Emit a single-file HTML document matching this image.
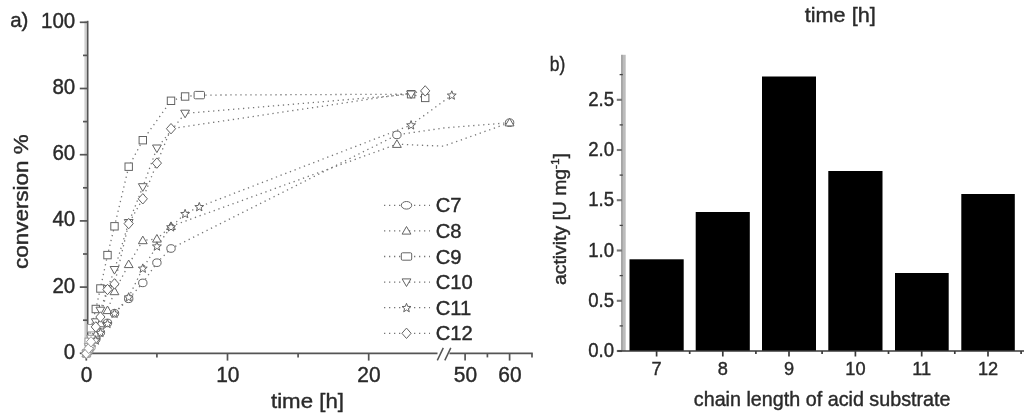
<!DOCTYPE html>
<html><head><meta charset="utf-8"><title>figure</title>
<style>
html,body{margin:0;padding:0;background:#fff;}
body{width:1024px;height:416px;overflow:hidden;font-family:"Liberation Sans",sans-serif;}
svg{display:block;filter:blur(0.75px);}
</style></head><body>
<svg width="1024" height="416" viewBox="0 0 1024 416">
<rect width="1024" height="416" fill="#fff"/>
<rect x="84.4" y="20.8" width="2.8" height="333.6" fill="#cfcfcf"/>
<rect x="86.9" y="20.8" width="1.6" height="333.6" fill="#555"/>
<g stroke="#555" stroke-width="1.9" fill="none">
<path d="M85 353.4H437.5M449.5 353.4H532.8"/>
</g>
<g stroke="#555" stroke-width="1.7" fill="none">
<path d="M79.8 353.3H87"/>
<path d="M79.8 287.1H87"/>
<path d="M79.8 220.9H87"/>
<path d="M79.8 154.7H87"/>
<path d="M79.8 88.5H87"/>
<path d="M79.8 22.3H87"/>
<path d="M83 320.2H87"/>
<path d="M83 254.0H87"/>
<path d="M83 187.8H87"/>
<path d="M83 121.6H87"/>
<path d="M83 55.4H87"/>
<path d="M86.3 353.4V360.59999999999997"/>
<path d="M227.5 353.4V360.59999999999997"/>
<path d="M368.7 353.4V360.59999999999997"/>
<path d="M465.1 353.4V360.59999999999997"/>
<path d="M509.6 353.4V360.59999999999997"/>
<path d="M156.9 353.4V357.4"/>
<path d="M298.1 353.4V357.4"/>
<path d="M487.4 353.4V357.4"/>
<path d="M532 353.4V357.4"/>
<path d="M437.3 360.4L443.3 347.9M444.8 360.4L450.8 347.9" stroke-width="1.5"/>
</g>
<g fill="none" stroke="#767676" stroke-width="1.3" stroke-dasharray="1.3 3.7">
<path d="M86.3 353.4L88.7 350.8L91.0 347.4L95.8 339.2L100.4 332.5L107.5 322.9L114.5 313.3L128.7 298.8L142.8 282.9L156.9 262.7L171.0 248.5L396.9 134.9L443.5 128.0L509.6 122.7"/>
<path d="M86.3 353.4L88.7 349.4L91.0 343.5L95.8 334.9L100.4 323.6L107.5 310.4L114.5 291.5L128.7 264.4L142.8 240.5L156.9 238.9L171.0 226.3L396.9 144.2L443.5 146.2L509.6 122.7"/>
<path d="M86.3 353.4L88.7 341.8L91.0 328.2L95.8 309.0L100.4 288.5L107.5 255.1L114.5 226.3L128.7 166.7L142.8 140.2L171.0 100.8L185.1 96.5L199.3 95.1L411.1 94.2L425.2 97.9"/>
<path d="M86.3 353.4L88.7 346.8L91.0 338.5L95.8 322.0L100.4 310.4L107.5 288.9L114.5 269.7L128.7 222.7L142.8 186.9L156.9 148.2L185.1 113.4L411.1 94.2"/>
<path d="M86.3 353.4L88.7 350.8L91.0 346.8L95.8 340.2L100.4 332.5L107.5 323.6L114.5 313.3L128.7 297.1L142.8 268.3L156.9 246.2L171.0 227.0L185.1 213.7L199.3 206.8L411.1 125.0L451.8 95.2"/>
<path d="M86.3 353.4L88.7 348.4L91.0 341.8L95.8 326.9L100.4 317.0L107.5 289.5L114.5 283.9L128.7 223.6L142.8 198.8L156.9 163.1L171.0 128.7L425.2 90.9"/>
</g>
<g fill="#fff" stroke="#646464" stroke-width="1.0">
<ellipse cx="86.3" cy="353.4" rx="4.2" ry="3.8" stroke="#9a9a9a"/>
<ellipse cx="88.7" cy="350.8" rx="4.2" ry="3.8" stroke="#9a9a9a"/>
<ellipse cx="91.0" cy="347.4" rx="4.2" ry="3.8" stroke="#9a9a9a"/>
<ellipse cx="95.8" cy="339.2" rx="4.2" ry="3.8"/>
<ellipse cx="100.4" cy="332.5" rx="4.2" ry="3.8"/>
<ellipse cx="107.5" cy="322.9" rx="4.2" ry="3.8"/>
<ellipse cx="114.5" cy="313.3" rx="4.2" ry="3.8"/>
<ellipse cx="128.7" cy="298.8" rx="4.2" ry="3.8"/>
<ellipse cx="142.8" cy="282.9" rx="4.2" ry="3.8"/>
<ellipse cx="156.9" cy="262.7" rx="4.2" ry="3.8"/>
<ellipse cx="171.0" cy="248.5" rx="4.2" ry="3.8"/>
<ellipse cx="396.9" cy="134.9" rx="4.2" ry="3.8"/>
<ellipse cx="509.6" cy="122.7" rx="4.2" ry="3.8"/>
<path d="M86.3 349.0L90.7 356.6L81.9 356.6Z" stroke="#9a9a9a"/>
<path d="M88.7 345.0L93.1 352.6L84.3 352.6Z" stroke="#9a9a9a"/>
<path d="M91.0 339.1L95.4 346.7L86.6 346.7Z" stroke="#9a9a9a"/>
<path d="M95.8 330.5L100.2 338.1L91.4 338.1Z"/>
<path d="M100.4 319.2L104.8 326.8L96.0 326.8Z"/>
<path d="M107.5 306.0L111.9 313.6L103.1 313.6Z"/>
<path d="M114.5 287.1L118.9 294.7L110.1 294.7Z"/>
<path d="M128.7 260.0L133.1 267.6L124.3 267.6Z"/>
<path d="M142.8 236.1L147.2 243.7L138.4 243.7Z"/>
<path d="M156.9 234.5L161.3 242.1L152.5 242.1Z"/>
<path d="M171.0 221.9L175.4 229.5L166.6 229.5Z"/>
<path d="M396.9 139.8L401.3 147.4L392.5 147.4Z"/>
<path d="M509.6 118.3L514.0 125.9L505.2 125.9Z"/>
<rect x="82.6" y="349.7" width="7.4" height="7.4" rx="0" stroke="#9a9a9a"/>
<rect x="85.0" y="338.1" width="7.4" height="7.4" rx="0" stroke="#9a9a9a"/>
<rect x="87.3" y="324.5" width="7.4" height="7.4" rx="0" stroke="#9a9a9a"/>
<rect x="92.1" y="305.3" width="7.4" height="7.4" rx="0"/>
<rect x="96.7" y="284.8" width="7.4" height="7.4" rx="0"/>
<rect x="103.8" y="251.4" width="7.4" height="7.4" rx="0"/>
<rect x="110.8" y="222.6" width="7.4" height="7.4" rx="0"/>
<rect x="125.0" y="163.0" width="7.4" height="7.4" rx="0"/>
<rect x="139.1" y="136.5" width="7.4" height="7.4" rx="0"/>
<rect x="167.3" y="97.1" width="7.4" height="7.4" rx="0"/>
<rect x="181.4" y="92.8" width="7.4" height="7.4" rx="0"/>
<rect x="194.1" y="91.4" width="10.4" height="7.4" rx="1.2"/>
<rect x="407.4" y="90.5" width="7.4" height="7.4" rx="0"/>
<rect x="421.5" y="94.2" width="7.4" height="7.4" rx="0"/>
<path d="M86.3 357.8L90.7 350.2L81.9 350.2Z" stroke="#9a9a9a"/>
<path d="M88.7 351.2L93.1 343.6L84.3 343.6Z" stroke="#9a9a9a"/>
<path d="M91.0 342.9L95.4 335.3L86.6 335.3Z" stroke="#9a9a9a"/>
<path d="M95.8 326.4L100.2 318.8L91.4 318.8Z"/>
<path d="M100.4 314.8L104.8 307.2L96.0 307.2Z"/>
<path d="M107.5 293.3L111.9 285.7L103.1 285.7Z"/>
<path d="M114.5 274.1L118.9 266.5L110.1 266.5Z"/>
<path d="M128.7 227.1L133.1 219.5L124.3 219.5Z"/>
<path d="M142.8 191.3L147.2 183.7L138.4 183.7Z"/>
<path d="M156.9 152.6L161.3 145.0L152.5 145.0Z"/>
<path d="M185.1 117.8L189.5 110.2L180.7 110.2Z"/>
<path d="M411.1 98.6L415.5 91.0L406.7 91.0Z"/>
<path d="M86.3 349.0L87.5 352.1L90.8 352.2L88.2 354.3L89.1 357.5L86.3 355.7L83.5 357.5L84.4 354.3L81.8 352.2L85.1 352.1Z" stroke="#9a9a9a"/>
<path d="M88.7 346.4L89.9 349.5L93.2 349.6L90.6 351.7L91.5 354.9L88.7 353.0L85.9 354.9L86.8 351.7L84.2 349.6L87.5 349.5Z" stroke="#9a9a9a"/>
<path d="M91.0 342.4L92.1 345.5L95.4 345.6L92.8 347.7L93.7 350.9L91.0 349.1L88.2 350.9L89.1 347.7L86.5 345.6L89.8 345.5Z" stroke="#9a9a9a"/>
<path d="M95.8 335.8L96.9 338.9L100.2 339.0L97.6 341.1L98.5 344.3L95.8 342.4L93.0 344.3L93.9 341.1L91.3 339.0L94.6 338.9Z"/>
<path d="M100.4 328.1L101.6 331.3L104.9 331.4L102.3 333.5L103.2 336.6L100.4 334.8L97.7 336.6L98.5 333.5L96.0 331.4L99.3 331.3Z"/>
<path d="M107.5 319.2L108.6 322.3L111.9 322.5L109.4 324.5L110.2 327.7L107.5 325.9L104.7 327.7L105.6 324.5L103.0 322.5L106.3 322.3Z"/>
<path d="M114.5 308.9L115.7 312.1L119.0 312.2L116.4 314.3L117.3 317.5L114.5 315.6L111.8 317.5L112.7 314.3L110.1 312.2L113.4 312.1Z"/>
<path d="M128.7 292.7L129.8 295.8L133.1 296.0L130.5 298.0L131.4 301.2L128.7 299.4L125.9 301.2L126.8 298.0L124.2 296.0L127.5 295.8Z"/>
<path d="M142.8 263.9L143.9 267.0L147.2 267.2L144.7 269.2L145.5 272.4L142.8 270.6L140.0 272.4L140.9 269.2L138.3 267.2L141.6 267.0Z"/>
<path d="M156.9 241.8L158.1 244.9L161.4 245.0L158.8 247.1L159.7 250.3L156.9 248.4L154.1 250.3L155.0 247.1L152.4 245.0L155.7 244.9Z"/>
<path d="M171.0 222.6L172.2 225.7L175.5 225.8L172.9 227.9L173.8 231.1L171.0 229.2L168.3 231.1L169.1 227.9L166.6 225.8L169.9 225.7Z"/>
<path d="M185.1 209.3L186.3 212.4L189.6 212.6L187.0 214.6L187.9 217.8L185.1 216.0L182.4 217.8L183.3 214.6L180.7 212.6L184.0 212.4Z"/>
<path d="M199.3 202.4L200.4 205.5L203.7 205.6L201.1 207.7L202.0 210.9L199.3 209.0L196.5 210.9L197.4 207.7L194.8 205.6L198.1 205.5Z"/>
<path d="M411.1 120.6L412.2 123.7L415.5 123.9L412.9 125.9L413.8 129.1L411.1 127.3L408.3 129.1L409.2 125.9L406.6 123.9L409.9 123.7Z"/>
<path d="M451.8 90.8L452.9 93.9L456.2 94.1L453.6 96.1L454.5 99.3L451.8 97.5L449.0 99.3L449.9 96.1L447.3 94.1L450.6 93.9Z"/>
<path d="M86.3 348.2L90.9 353.4L86.3 358.6L81.7 353.4Z" stroke="#9a9a9a"/>
<path d="M88.7 343.2L93.3 348.4L88.7 353.6L84.1 348.4Z" stroke="#9a9a9a"/>
<path d="M91.0 336.6L95.6 341.8L91.0 347.0L86.4 341.8Z" stroke="#9a9a9a"/>
<path d="M95.8 321.7L100.4 326.9L95.8 332.1L91.2 326.9Z"/>
<path d="M100.4 311.8L105.0 317.0L100.4 322.2L95.8 317.0Z"/>
<path d="M107.5 284.3L112.1 289.5L107.5 294.7L102.9 289.5Z"/>
<path d="M114.5 278.7L119.1 283.9L114.5 289.1L109.9 283.9Z"/>
<path d="M128.7 218.4L133.3 223.6L128.7 228.8L124.1 223.6Z"/>
<path d="M142.8 193.6L147.4 198.8L142.8 204.0L138.2 198.8Z"/>
<path d="M156.9 157.9L161.5 163.1L156.9 168.3L152.3 163.1Z"/>
<path d="M171.0 123.5L175.6 128.7L171.0 133.9L166.4 128.7Z"/>
<path d="M425.2 85.7L429.8 90.9L425.2 96.1L420.6 90.9Z"/>
</g>
<g font-family="Liberation Sans, sans-serif" fill="#2a2a2a" stroke="#2a2a2a" stroke-width="0.4">
<text transform="translate(75.2 358.7) scale(0.95 1)" font-size="21.6" text-anchor="end">0</text>
<text transform="translate(75.2 292.5) scale(0.95 1)" font-size="21.6" text-anchor="end">20</text>
<text transform="translate(75.2 226.3) scale(0.95 1)" font-size="21.6" text-anchor="end">40</text>
<text transform="translate(75.2 160.1) scale(0.95 1)" font-size="21.6" text-anchor="end">60</text>
<text transform="translate(75.2 93.9) scale(0.95 1)" font-size="21.6" text-anchor="end">80</text>
<text transform="translate(75.2 27.7) scale(0.95 1)" font-size="21.6" text-anchor="end">100</text>
<text transform="translate(86.6 381.7) scale(0.97 1)" font-size="21.6" text-anchor="middle">0</text>
<text transform="translate(227.8 381.7) scale(0.97 1)" font-size="21.6" text-anchor="middle">10</text>
<text transform="translate(369.0 381.7) scale(0.97 1)" font-size="21.6" text-anchor="middle">20</text>
<text transform="translate(465.4 381.7) scale(0.97 1)" font-size="21.6" text-anchor="middle">50</text>
<text transform="translate(509.9 381.7) scale(0.97 1)" font-size="21.6" text-anchor="middle">60</text>
<text transform="translate(10.2 26.6)" font-size="20.5" text-anchor="start">a)</text>
<text transform="translate(271 407.5) scale(1.075 1)" font-size="20.7" text-anchor="start">time [h]</text>
<text transform="translate(28.3 269) rotate(-90) scale(1.085 1)" font-size="20.7" text-anchor="start">conversion %</text>
<text transform="translate(435.8 212.3) scale(0.99 1)" font-size="20.4" text-anchor="start">C7</text>
<text transform="translate(435.8 237.9) scale(0.99 1)" font-size="20.4" text-anchor="start">C8</text>
<text transform="translate(435.8 263.5) scale(0.99 1)" font-size="20.4" text-anchor="start">C9</text>
<text transform="translate(435.8 289.1) scale(0.99 1)" font-size="20.4" text-anchor="start">C10</text>
<text transform="translate(435.8 314.7) scale(0.99 1)" font-size="20.4" text-anchor="start">C11</text>
<text transform="translate(435.8 340.3) scale(0.99 1)" font-size="20.4" text-anchor="start">C12</text>
</g>
<g fill="none" stroke="#767676" stroke-width="1.3" stroke-dasharray="1.3 3.7">
<path d="M384 205.3H430"/>
<path d="M384 230.9H430"/>
<path d="M384 256.5H430"/>
<path d="M384 282.1H430"/>
<path d="M384 307.7H430"/>
<path d="M384 333.3H430"/>
</g>
<g fill="#fff" stroke="#646464" stroke-width="1.0">
<ellipse cx="406.5" cy="205.3" rx="5.2" ry="3.8"/>
<path d="M406.5 226.5L410.9 234.1L402.1 234.1Z"/>
<rect x="401.3" y="252.8" width="10.4" height="7.4" rx="1.2"/>
<path d="M406.5 286.5L410.9 278.9L402.1 278.9Z"/>
<path d="M406.5 303.3L407.7 306.4L411.0 306.5L408.4 308.6L409.3 311.8L406.5 310.0L403.7 311.8L404.6 308.6L402.0 306.5L405.3 306.4Z"/>
<path d="M406.5 328.1L411.1 333.3L406.5 338.5L401.9 333.3Z"/>
</g>
<g fill="#000">
<rect x="629.5" y="259.3" width="54.2" height="91.7"/>
<rect x="695.7" y="212" width="54.1" height="139.0"/>
<rect x="762" y="76.5" width="54.0" height="274.5"/>
<rect x="828.3" y="171" width="54.2" height="180.0"/>
<rect x="895" y="273" width="53.7" height="78.0"/>
<rect x="961.3" y="194" width="53.5" height="157.0"/>
</g>
<rect x="621.6" y="54.8" width="4.1" height="296.2" fill="#bcbcbc"/>
<rect x="621.3" y="54.8" width="1.1" height="296.2" fill="#8c8c8c"/>
<g stroke="#777" stroke-width="2.1" fill="none">
<path d="M616.8 351.0H622"/>
<path d="M616.8 300.8H622"/>
<path d="M616.8 250.5H622"/>
<path d="M616.8 200.2H622"/>
<path d="M616.8 150.0H622"/>
<path d="M616.8 99.8H622"/>
</g>
<g stroke="#444" stroke-width="1.3" fill="none">
<path d="M619.6 325.9H622.8"/>
<path d="M619.6 275.6H622.8"/>
<path d="M619.6 225.4H622.8"/>
<path d="M619.6 175.1H622.8"/>
<path d="M619.6 124.9H622.8"/>
<path d="M619.6 74.6H622.8"/>
</g>
<g stroke="#3a3a3a" stroke-width="1.7" fill="none">
<path d="M617.5 351.0H1024"/>
<path d="M656.6 351.0V356.5"/>
<path d="M722.8 351.0V356.5"/>
<path d="M789 351.0V356.5"/>
<path d="M855.4 351.0V356.5"/>
<path d="M921.7 351.0V356.5"/>
<path d="M988 351.0V356.5"/>
<path d="M689.7 351.0V354.0"/>
<path d="M755.9 351.0V354.0"/>
<path d="M822.1 351.0V354.0"/>
<path d="M888.5 351.0V354.0"/>
<path d="M954.8 351.0V354.0"/>
<path d="M1021.1 351.0V354.0"/>
</g>
<g font-family="Liberation Sans, sans-serif" fill="#2a2a2a" stroke="#2a2a2a" stroke-width="0.4">
<text transform="translate(614.0 357.0) scale(0.92 1)" font-size="20.2" text-anchor="end">0.0</text>
<text transform="translate(614.0 306.8) scale(0.92 1)" font-size="20.2" text-anchor="end">0.5</text>
<text transform="translate(614.0 256.5) scale(0.92 1)" font-size="20.2" text-anchor="end">1.0</text>
<text transform="translate(614.0 206.2) scale(0.92 1)" font-size="20.2" text-anchor="end">1.5</text>
<text transform="translate(614.0 156.0) scale(0.92 1)" font-size="20.2" text-anchor="end">2.0</text>
<text transform="translate(614.0 105.8) scale(0.92 1)" font-size="20.2" text-anchor="end">2.5</text>
<text transform="translate(656.6 375)" font-size="18.2" text-anchor="middle">7</text>
<text transform="translate(722.8 375)" font-size="18.2" text-anchor="middle">8</text>
<text transform="translate(789 375)" font-size="18.2" text-anchor="middle">9</text>
<text transform="translate(855.4 375)" font-size="18.2" text-anchor="middle">10</text>
<text transform="translate(921.7 375)" font-size="18.2" text-anchor="middle">11</text>
<text transform="translate(988 375)" font-size="18.2" text-anchor="middle">12</text>
<text transform="translate(693.8 406) scale(1.008 1)" font-size="19.6" text-anchor="start">chain length of acid substrate</text>
<text transform="translate(804.8 21.7) scale(1.06 1)" font-size="20.4" text-anchor="start">time [h]</text>
<text transform="translate(549.8 71.1) scale(0.86 1)" font-size="20.3" text-anchor="start">b)</text>
<text transform="translate(566.3 285) rotate(-90)" font-size="18.6" text-anchor="start" textLength="132" lengthAdjust="spacingAndGlyphs">activity [U mg<tspan font-size="11.5" dy="-7.5">-1</tspan><tspan dy="7.5">]</tspan></text>
</g>
</svg>
</body></html>
